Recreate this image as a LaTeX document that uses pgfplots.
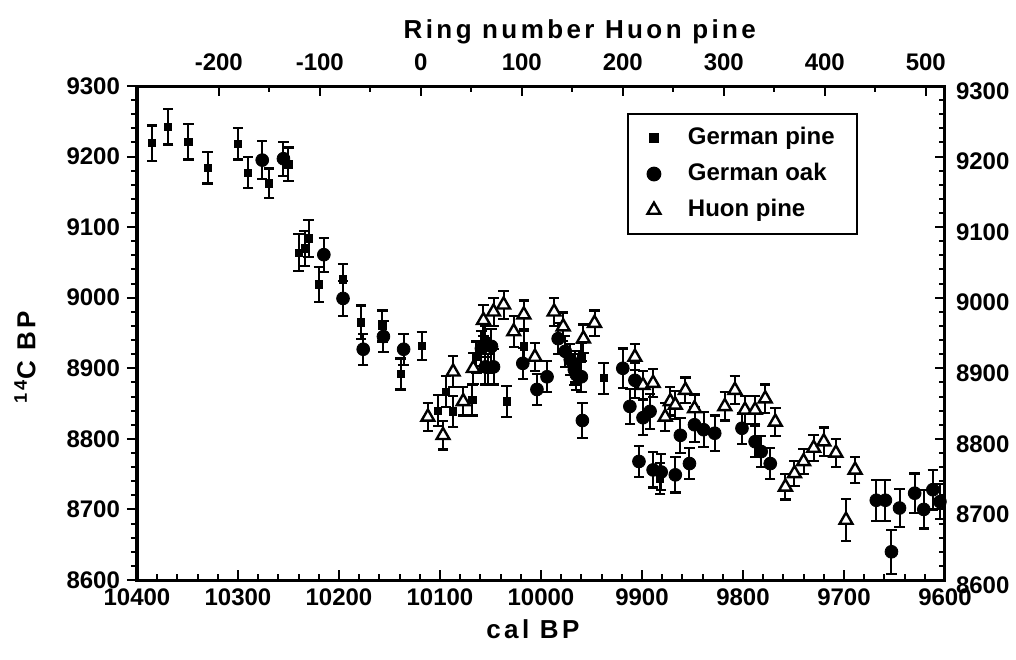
\documentclass[border=0pt]{standalone}
\usepackage{fontspec}
\setmainfont{Liberation Sans}
\newfontfamily\spacedfont[LetterSpace=13]{Liberation Sans}
\usepackage{pgfplots}
\pgfplotsset{compat=1.18}
\usepackage{pgfplotstable}

\pgfplotstableread{
x y e
10385 9219 25
10369 9242 25
10349 9221 25
10330 9184 22
10300 9218 22
10290 9177 22
10269 9162 21
10250 9189 24
10240 9064 26
10234 9070 25
10230 9084 26
10220 9019 25
10196 9026 22
10178 8965 24
10157 8960 22
10139 8892 22
10118 8932 20
10102 8840 22
10094 8867 22
10087 8839 22
10068 8855 22
10064 8916 22
10055 8938 22
10052 8898 22
10034 8853 22
10017 8931 22
9966 8902 22
9960 8914 22
9938 8886 22
9882 8744 22
}\pine

\pgfplotstableread{
x y e
10276 9195 27
10255 9197 24
10215 9061 24
10196 8999 25
10176 8927 22
10156 8945 22
10136 8927 22
10059 8928 25
10049 8931 25
10055 8902 25
10047 8902 25
10018 8907 22
10004 8870 22
9994 8888 22
9983 8942 22
9976 8924 22
9971 8912 22
9967 8898 22
9965 8891 22
9960 8888 22
9959 8826 25
9919 8900 28
9907 8883 25
9912 8846 25
9899 8830 25
9903 8768 22
9892 8839 25
9889 8756 25
9881 8753 25
9867 8749 25
9862 8805 25
9853 8765 22
9848 8820 25
9839 8813 25
9828 8808 25
9801 8815 22
9788 8796 22
9782 8782 22
9773 8765 22
9668 8713 29
9659 8713 29
9645 8702 27
9653 8640 31
9630 8723 28
9621 8700 27
9612 8728 28
9605 8711 25
}\oak

\pgfplotstableread{
x y e
10112 8831 20
10097 8805 20
10087 8895 22
10077 8853 20
10067 8900 22
10057 8968 22
10047 8980 20
10037 8990 20
10027 8952 22
10017 8976 20
10006 8916 20
9987 8980 20
9978 8959 20
9958 8942 20
9947 8964 18
9907 8916 18
9899 8876 20
9889 8879 20
9877 8831 20
9872 8853 20
9867 8848 20
9857 8869 18
9848 8843 20
9818 8846 20
9808 8869 20
9798 8841 20
9788 8841 20
9778 8857 20
9768 8824 20
9758 8732 18
9749 8751 18
9740 8768 18
9730 8787 18
9720 8796 20
9708 8780 20
9689 8756 18
9698 8685 30
}\huon

\begin{document}
\begin{tikzpicture}
\pgfplotsset{
  common/.style={
    scale only axis, width=404pt, height=247pt,
    at={(0pt,0pt)}, anchor=south west,
    axis line style={line width=1.5pt},
    major tick length=5pt, minor tick length=3pt,
    every tick/.append style={line width=1pt, black},
    ticklabel style={font=\bfseries\fontsize{12}{14}\selectfont},
    /pgf/number format/assume math mode=true,
    /pgf/number format/1000 sep={},
    scaled x ticks=false, scaled y ticks=false,
    ymin=8600, ymax=9300,
    ytick={8600,8700,...,9300},
    clip=false,
  },
  errs/.style={
    error bars/.cd, y dir=both, y explicit,
    error bar style={line width=1pt, black},
    error mark options={rotate=90, mark size=2.6pt, line width=1.1pt, black},
    /pgfplots/.cd,
  },
  pinestyle/.style={only marks, mark=square*, mark size=1.8pt, black},
  oakstyle/.style={only marks, mark=*, mark size=3.2pt, black},
  huonstyle/.style={only marks, mark=triangle*, mark size=3.7pt, black,
    mark options={fill=white, line width=1.2pt}},
}
% main axis with data, bottom x ticks and right y ticks
\begin{axis}[common,
  xmin=9600, xmax=10400, x dir=reverse,
  tick align=inside,
  xtick pos=left, ytick pos=right, yticklabel pos=right,
  xtick={9600,9700,...,10400},
  minor x tick num=4, minor y tick num=4,
  xticklabel style={yshift=-1pt},
  yticklabel style={xshift=2pt, yshift=-2.5pt},
  xlabel={\spacedfont\bfseries\fontsize{13}{15}\selectfont cal BP},
  xlabel style={at={(axis description cs:0.49,-0.118)}, anchor=base},
  legend style={at={(axis description cs:0.6064,0.9453)}, anchor=north west,
    draw=black, line width=1pt, inner sep=6pt, column sep=5pt, row sep=6pt,
    font=\bfseries\fontsize{12}{14}\selectfont,
    nodes={inner xsep=5pt, inner ysep=0pt, text height=9pt, text depth=3pt}},
  legend cell align=left,
  legend image code/.code={\path[draw=none, fill=none] (0pt,-3pt) rectangle (14pt,3pt);
    \draw[#1] plot coordinates {(7pt,0pt)};},
]
\addlegendimage{pinestyle}
\addlegendentry{German pine}
\addlegendimage{oakstyle}
\addlegendentry{German oak}
\addlegendimage{huonstyle}
\addlegendentry{Huon pine}
\addplot[forget plot, pinestyle, errs]
  table[x=x, y=y, y error=e] {\pine};
\addplot[forget plot, oakstyle, errs]
  table[x=x, y=y, y error=e] {\oak};
\addplot[forget plot, huonstyle, errs]
  table[x=x, y=y, y error=e] {\huon};
\end{axis}
% left y ticks (outside)
\begin{axis}[common,
  xmin=9600, xmax=10400, x dir=reverse,
  xtick=\empty, tick align=outside,
  ytick pos=left, minor y tick num=4,
  ylabel={\spacedfont\bfseries\fontsize{13}{15}\selectfont\textsuperscript{14}C BP},
  ylabel style={at={(axis description cs:-0.1386,0.451)}, anchor=center},
]
\end{axis}
% top ring-number axis
\begin{axis}[common,
  xmin=-281, xmax=519,
  ytick=\empty, tick align=inside,
  xtick pos=right, xticklabel pos=right,
  xtick={-200,-100,...,500}, minor x tick num=1,
  xticklabel style={yshift=4pt},
  xlabel={\spacedfont\bfseries\fontsize{13}{15}\selectfont Ring number Huon pine},
  xlabel style={at={(axis description cs:0.548,1.097)}, anchor=base},
]
\end{axis}
\pgfresetboundingbox
\path[use as bounding box] (-68.5pt,-39.5pt) rectangle (439.5pt,290pt);
\end{tikzpicture}
\end{document}
